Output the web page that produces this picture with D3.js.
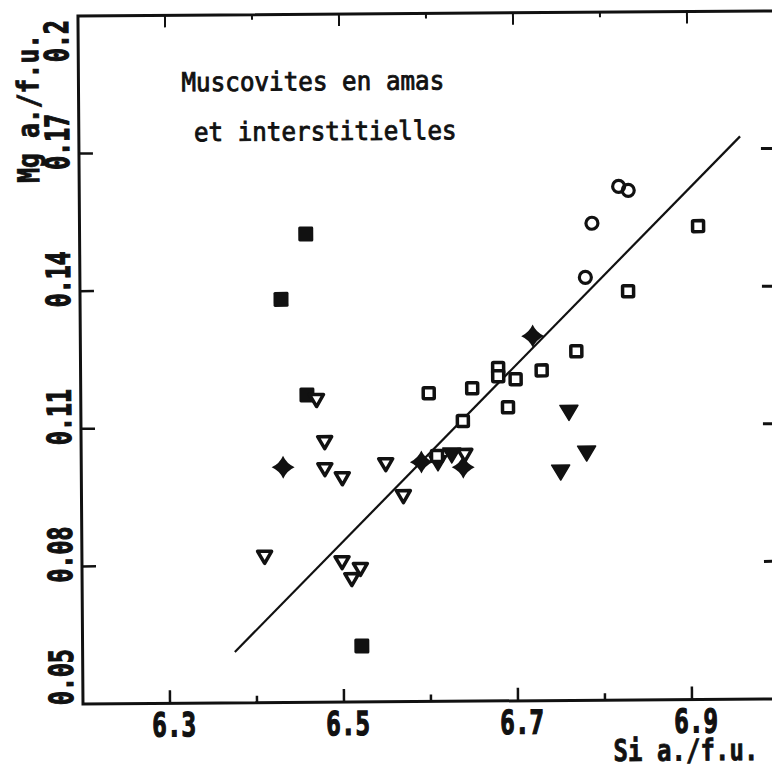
<!DOCTYPE html>
<html>
<head>
<meta charset="utf-8">
<script src="https://cdn.jsdelivr.net/npm/d3@7"></script>
<style>
  html, body { margin: 0; padding: 0; background: #fff; }
  svg { display: block; }
</style>
</head>
<body>
<svg id="chart" width="772" height="769"></svg>
<script>
// Si vs Mg (a./f.u.), muscovites en amas et interstitielles
const xTicksMajor = [6.3, 6.5, 6.7, 6.9];
const xTicksMinor = [6.4, 6.6, 6.8];
const yTicks = [0.05, 0.08, 0.11, 0.14, 0.17, 0.2];
const yTickLabels = ['0.05', '0.08', '0.11', '0.14', '0.17', '0.2'];

const filledSquares = [[6.460, 0.1521], [6.431, 0.1379], [6.460, 0.1170], [6.521, 0.0622]];
const openSquares = [
  [6.600, 0.1172], [6.650, 0.1182], [6.639, 0.1111], [6.680, 0.1226], [6.680, 0.1208],
  [6.700, 0.1201], [6.691, 0.1140], [6.730, 0.1220], [6.770, 0.1261], [6.830, 0.1391],
  [6.911, 0.1532], [6.609, 0.1035]
];
const openCircles = [[6.781, 0.1422], [6.789, 0.1540], [6.820, 0.1620], [6.831, 0.1611]];
const stars = [[6.432, 0.1013], [6.591, 0.1022], [6.639, 0.1010], [6.720, 0.1295]];
const filledTriangles = [[6.610, 0.1020], [6.626, 0.1037], [6.761, 0.1128], [6.781, 0.1039], [6.751, 0.0998]];
const openTriangles = [
  [6.410, 0.0818], [6.471, 0.1159], [6.480, 0.1067], [6.480, 0.1008], [6.500, 0.0988],
  [6.550, 0.1018], [6.570, 0.0948], [6.641, 0.1037], [6.499, 0.0805], [6.520, 0.0790],
  [6.510, 0.0768]
];
const fitLine = [[6.375, 0.0611], [6.960, 0.1727]];

const titleLines = ['Muscovites en amas', 'et interstitielles'];
const xTitle = 'Si a./f.u.';
const yTitle = 'Mg a./f.u.';

let svg = d3.select('#chart');
let ink = '#111';
let monoFont = '"DejaVu Sans Mono", "Liberation Mono", monospace';

let x = d3.scaleLinear().domain([6.2, 7.0]).range([83, 779]);
let y = d3.scaleLinear().domain([0.05, 0.2]).range([704, 16]);

// the scan is a bit tilted
let root = svg.append('g').attr('transform', 'rotate(-0.42,' + x(6.2) + ',' + y(0.05) + ')');

// frame (right edge falls outside the picture)
let x0 = x(6.2), x1 = x(7.0), y0 = y(0.05), y1 = y(0.2);
root.append('path')
  .attr('d', 'M' + (x1 + 10) + ',' + y1 + 'L' + x0 + ',' + y1 + 'L' + x0 + ',' + y0 + 'L' + (x1 + 10) + ',' + y0)
  .attr('fill', 'none').attr('stroke', ink).attr('stroke-width', 3);

// x ticks (bottom + top, inward)
let allX = xTicksMajor.concat(xTicksMinor);
let xt = root.append('g').attr('class', 'x_ticks');
xt.selectAll('.tb').data(allX).enter().append('line')
  .attr('x1', d => x(d)).attr('x2', d => x(d))
  .attr('y1', y0).attr('y2', d => y0 - (xTicksMajor.includes(d) ? 13 : 7))
  .attr('stroke', ink).attr('stroke-width', 2.5);
xt.selectAll('.tt').data(allX).enter().append('line')
  .attr('x1', d => x(d)).attr('x2', d => x(d))
  .attr('y1', y1).attr('y2', d => y1 + (xTicksMajor.includes(d) ? 12 : 5))
  .attr('stroke', ink).attr('stroke-width', 2);
xt.selectAll('text').data(xTicksMajor).enter().append('text')
  .attr('x', d => x(d) - 18).attr('y', y0 + 33)
  .attr('textLength', 44).attr('lengthAdjust', 'spacingAndGlyphs')
  .style('font-family', monoFont).style('font-weight', 'bold').style('font-size', '33px')
  .attr('fill', ink).attr('stroke', ink).attr('stroke-width', 1.3)
  .text(d => d3.format('.1f')(d));

// y ticks (left + right, inward)
let inner = yTicks.slice(1, -1);
let yt = root.append('g').attr('class', 'y_ticks');
yt.selectAll('.tl').data(inner).enter().append('line')
  .attr('x1', x0).attr('x2', x0 + 14).attr('y1', d => y(d)).attr('y2', d => y(d))
  .attr('stroke', ink).attr('stroke-width', 2.5);
yt.selectAll('.tr').data(inner).enter().append('line')
  .attr('x1', x1 + 2).attr('x2', x1 - 14).attr('y1', d => y(d)).attr('y2', d => y(d))
  .attr('stroke', ink).attr('stroke-width', 3);

// rotated y labels, sit a bit above the tick but stay inside the axis span
let charW = 14;
yt.selectAll('text').data(yTicks).enter().append('text')
  .attr('transform', (d, i) => {
    let len = yTickLabels[i].length * charW;
    let c = y(d) - 12;
    c = Math.min(c, y0 + 1 - len / 2);
    c = Math.max(c, y1 + 4 + len / 2);
    return 'translate(' + (x0 - 10) + ',' + c + ') rotate(-90)';
  })
  .attr('text-anchor', 'middle')
  .attr('textLength', (d, i) => yTickLabels[i].length * charW).attr('lengthAdjust', 'spacingAndGlyphs')
  .style('font-family', monoFont).style('font-weight', 'bold').style('font-size', '33px')
  .attr('fill', ink).attr('stroke', ink).attr('stroke-width', 1.3)
  .text((d, i) => yTickLabels[i]);

// axis titles
root.append('text')
  .attr('x', 613).attr('y', 765)
  .attr('textLength', 145).attr('lengthAdjust', 'spacingAndGlyphs')
  .style('font-family', monoFont).style('font-weight', 'bold').style('font-size', '30px')
  .attr('fill', ink).attr('stroke', ink).attr('stroke-width', 0.8)
  .text(xTitle);
root.append('text')
  .attr('transform', 'translate(43,' + 108 + ') rotate(-90)')
  .attr('text-anchor', 'middle')
  .attr('textLength', 149).attr('lengthAdjust', 'spacingAndGlyphs')
  .style('font-family', monoFont).style('font-weight', 'bold').style('font-size', '30px')
  .attr('fill', ink).attr('stroke', ink).attr('stroke-width', 0.8)
  .text(yTitle);

// title inside the plot
root.selectAll('.title').data(titleLines).enter().append('text').attr('class', 'title')
  .attr('x', (d, i) => i == 0 ? 186 : 198).attr('y', (d, i) => 92 + i * 50)
  .attr('textLength', d => d.length * 14.6).attr('lengthAdjust', 'spacingAndGlyphs')
  .style('font-family', monoFont).style('font-size', '26px')
  .attr('fill', ink).attr('stroke', ink).attr('stroke-width', 0.9)
  .text(d => d);

// fitted line
root.append('path')
  .attr('d', d3.line().x(d => x(d[0])).y(d => y(d[1]))(fitLine))
  .attr('fill', 'none').attr('stroke', ink).attr('stroke-width', 2.2);

// markers
let marks = root.append('g').attr('class', 'marks');
let place = d => 'translate(' + x(d[0]) + ',' + y(d[1]) + ')';

let triOpen = 'M-7,-5.5L7,-5.5L0,6.5Z';
let triFill = 'M-9,-7L9,-7L0,8Z';
let starPath = 'M0,-11.5Q3.5,-3.5 11.5,0Q3.5,3.5 0,11.5Q-3.5,3.5 -11.5,0Q-3.5,-3.5 0,-11.5Z';

marks.selectAll('.fsq').data(filledSquares).enter().append('rect').attr('class', 'fsq')
  .attr('transform', place).attr('x', -7.5).attr('y', -7.5).attr('width', 15).attr('height', 15)
  .attr('rx', 1.5).attr('fill', ink);

marks.selectAll('.ftri').data(filledTriangles).enter().append('path').attr('class', 'ftri')
  .attr('transform', place).attr('d', triFill)
  .attr('fill', ink).attr('stroke', ink).attr('stroke-width', 1.5).attr('stroke-linejoin', 'round');

marks.selectAll('.osq').data(openSquares).enter().append('rect').attr('class', 'osq')
  .attr('transform', place).attr('x', -5.5).attr('y', -5.5).attr('width', 11).attr('height', 11)
  .attr('rx', 1).attr('fill', '#fff').attr('stroke', ink).attr('stroke-width', 3.5);

marks.selectAll('.otri').data(openTriangles).enter().append('path').attr('class', 'otri')
  .attr('transform', place).attr('d', triOpen)
  .attr('fill', '#fff').attr('stroke', ink).attr('stroke-width', 3.5).attr('stroke-linejoin', 'round');

marks.selectAll('.ocir').data(openCircles).enter().append('circle').attr('class', 'ocir')
  .attr('transform', place).attr('r', 6)
  .attr('fill', 'none').attr('stroke', ink).attr('stroke-width', 3.2);

marks.selectAll('.star').data(stars).enter().append('path').attr('class', 'star')
  .attr('transform', place).attr('d', starPath).attr('fill', ink);
</script>
</body>
</html>
